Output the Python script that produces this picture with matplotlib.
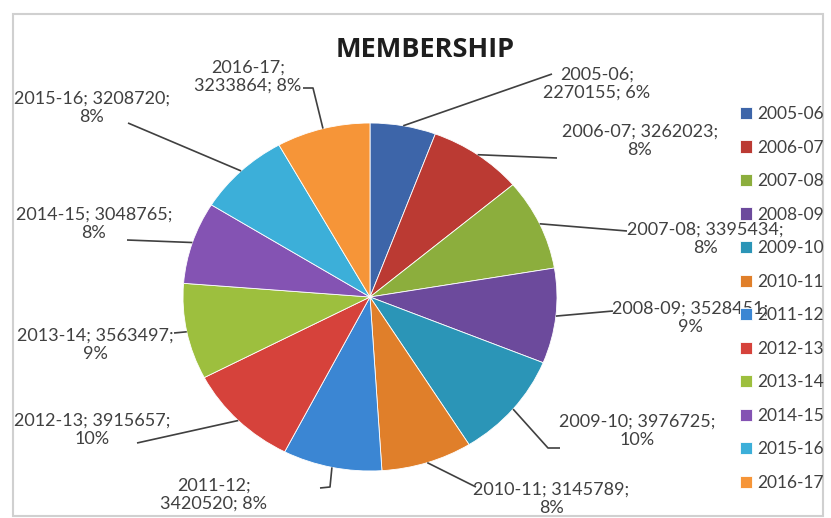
import matplotlib
matplotlib.use('agg')
import matplotlib.pyplot as plt
from matplotlib.patches import Rectangle
import numpy as np

plt.rcParams['font.family'] = ['Lato', 'DejaVu Sans']

years = ['2005-06', '2006-07', '2007-08', '2008-09', '2009-10', '2010-11',
         '2011-12', '2012-13', '2013-14', '2014-15', '2015-16', '2016-17']
members = [2270155, 3262023, 3395434, 3528451, 3976725, 3145789,
           3420520, 3915657, 3563497, 3048765, 3208720, 3233864]
pct_labels = ['6%', '8%', '8%', '9%', '10%', '8%',
              '8%', '10%', '9%', '8%', '8%', '8%']

colors = ['#3d65a9', '#bb3a33', '#8cae3d', '#6c4a9c', '#2b95b7', '#e07f2a',
          '#3b86d3', '#d6423b', '#9dbf3e', '#8453b3', '#3cafd9', '#f69538']

W, H = 831, 518
# pie box in pixels (left, top, right, bottom) - the picture is slightly squashed
px0, py0, px1, py1 = 183, 123, 557, 471

# label layout: text centre, where the line breaks, and leader line path
label_pos = [(597, 84), (640, 141), (705, 239), (690, 318), (637, 431), (551, 499),
             (214, 495), (92, 430), (95, 345), (94, 224), (92, 108), (248, 77)]
break_after = ['year', 'value', 'value', 'value', 'value', 'value',
               'year', 'value', 'value', 'value', 'value', 'year']
leader_pts = [[(552, 74)], [(557, 158)], [(627, 231)], [(613, 311)],
              [(548, 448), (560, 448)], [(476, 487)], [(330, 487), (320, 488)],
              [(137, 443)], [(174, 333)], [(127, 240)], [(128, 123)],
              [(313, 88), (303, 88)]]

fig = plt.figure(figsize=(W / 100, H / 100), dpi=100)

pax = fig.add_axes([px0 / W, (H - py1) / H, (px1 - px0) / W, (py1 - py0) / H])
wedges, _ = pax.pie(members, colors=colors, startangle=90, counterclock=False,
                    wedgeprops=dict(edgecolor='white', linewidth=0.6))
pax.set_aspect('auto')
pax.set_xlim(-1, 1)
pax.set_ylim(-1, 1)

ov = fig.add_axes([0, 0, 1, 1], zorder=5)
ov.set_xlim(0, W)
ov.set_ylim(H, 0)
ov.axis('off')
ov.patch.set_alpha(0)

# chart frame
ov.add_patch(Rectangle((13, 14), 810, 502, fill=False, edgecolor='#d0d0d0', linewidth=1.5))

ov.text(425, 50, 'MEMBERSHIP', ha='center', va='center', fontsize=19.5,
        fontweight='bold', color='#1e1e1e', family=['Open Sans', 'DejaVu Sans'])

to_pix = ov.transData.inverted()
for i, w in enumerate(wedges):
    ang = np.deg2rad((w.theta1 + w.theta2) / 2)
    start = to_pix.transform(pax.transData.transform((np.cos(ang), np.sin(ang))))
    path = [tuple(start)] + leader_pts[i]
    xs, ys = zip(*path)
    ov.plot(xs, ys, color='#404040', linewidth=1.2, solid_capstyle='butt')

    val = str(members[i])
    if break_after[i] == 'year':
        txt = years[i] + ';\n' + val + '; ' + pct_labels[i]
    else:
        txt = years[i] + '; ' + val + ';\n' + pct_labels[i]
    ov.text(label_pos[i][0], label_pos[i][1], txt, ha='center', va='center',
            multialignment='center', fontsize=13, color='#404040', linespacing=1.15)

fig.legend(wedges, years, loc='upper left', bbox_to_anchor=(740 / W, 1 - 106 / H),
           frameon=False, fontsize=12.5, labelcolor='#404040', handlelength=0.7,
           handleheight=0.7, handletextpad=0.3, labelspacing=1.01,
           borderpad=0, borderaxespad=0)

plt.savefig('out.png', dpi=100)
